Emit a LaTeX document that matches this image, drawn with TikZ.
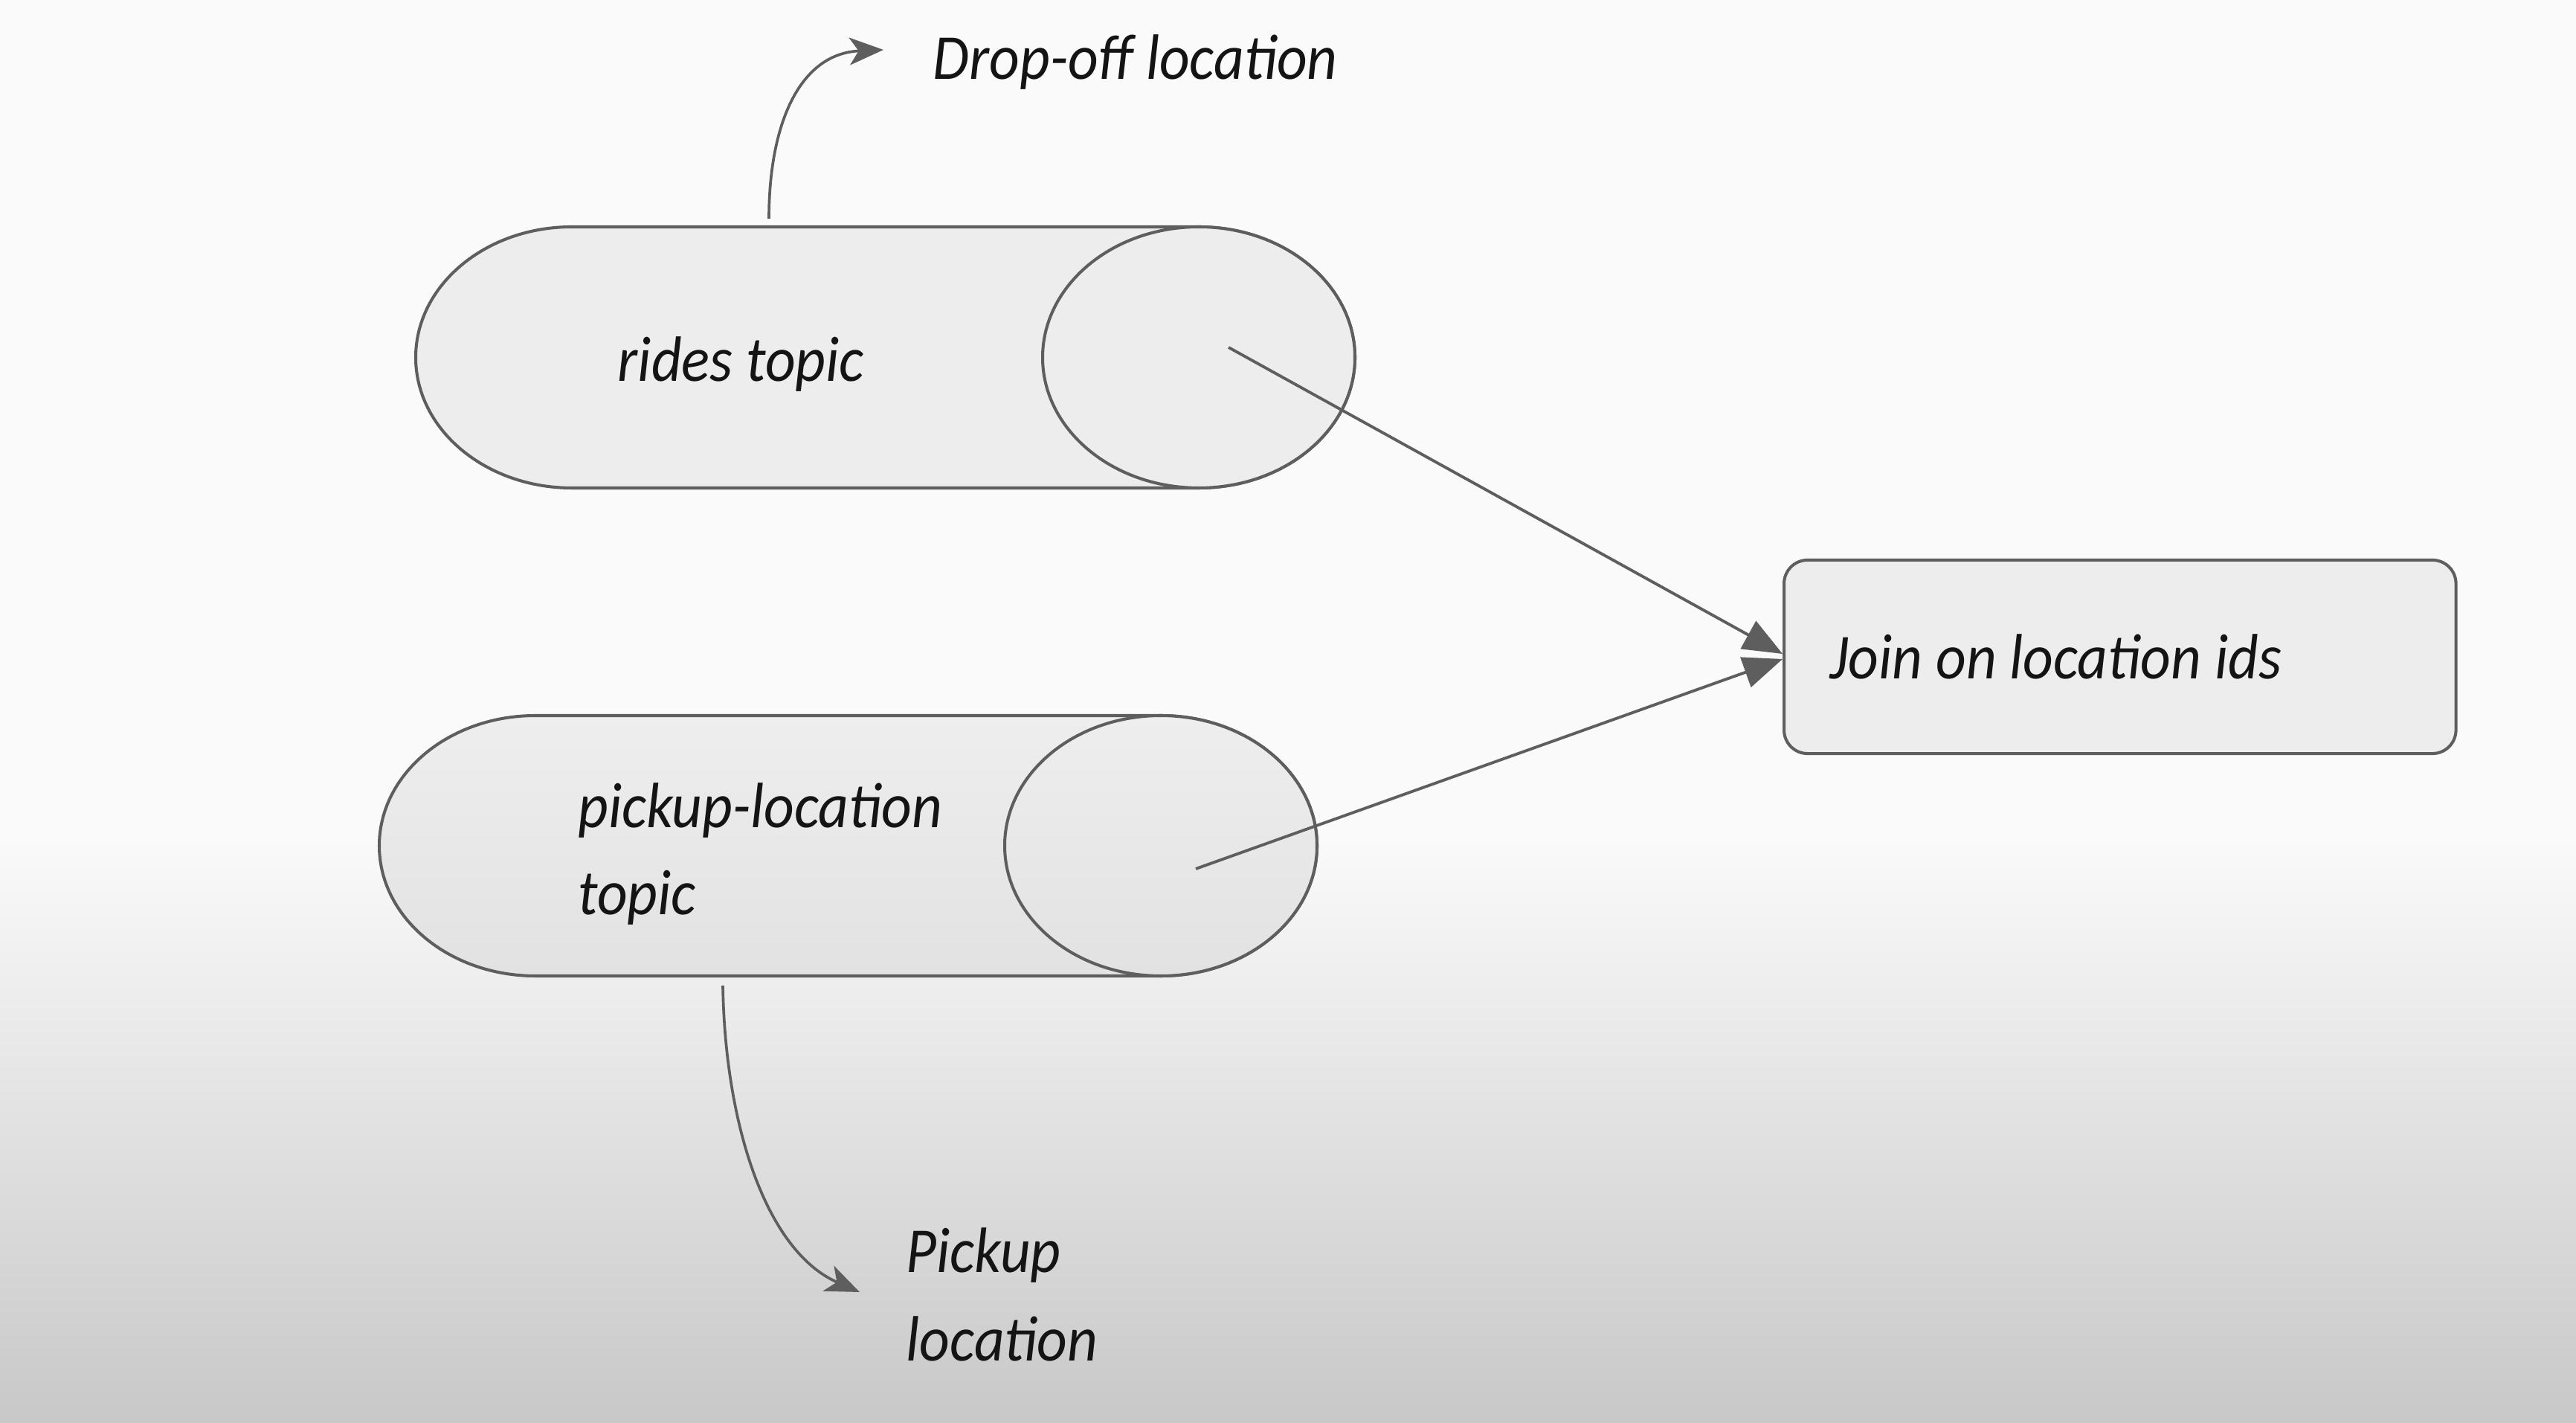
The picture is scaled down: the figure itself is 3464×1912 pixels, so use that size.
\documentclass[tikz,border=0pt]{standalone}
\usepackage{fontspec}
\newfontfamily\hand[FakeStretch=0.92]{Carlito}
\usetikzlibrary{arrows.meta}
\definecolor{lc}{HTML}{5E5E5E}
\definecolor{cylfill}{HTML}{EDEDED}
\definecolor{txt}{HTML}{141414}
\tikzset{
  lbl/.style={font=\hand\itshape\fontsize{24.5pt}{33pt}\selectfont, text=txt, inner sep=0pt},
  cylline/.style={draw=lc, line width=1.15pt},
  joinarrow/.style={draw=lc, line width=1.1pt, -{Triangle[length=15pt,width=12pt]}},
  curvearrow/.style={draw=lc, line width=1.05pt, -{Stealth[length=13pt,width=10.5pt,inset=3.5pt]}},
  joinbox/.style={draw=lc, line width=1.15pt, fill=cylfill, rounded corners=9pt, anchor=west,
    minimum width=9.03cm, minimum height=2.6cm, text width=7.8cm, align=flush left,
    inner xsep=0.61cm, font=\hand\itshape\fontsize{24.5pt}{33pt}\selectfont, text=txt}
}
\begin{document}
\begin{tikzpicture}[x=0.01cm, y=0.01cm]
\useasboundingbox (0,0) rectangle (3464,1912);
% background
\fill[color={rgb,255:red,250;green,250;blue,250}] (0,782) rectangle (3464,1912);
\shade[top color={rgb,255:red,250;green,250;blue,250}, bottom color={rgb,255:red,200;green,200;blue,200}] (0,0) rectangle (3464,782);

% rides topic cylinder
\path[cylline, fill=cylfill] (1612,1607) -- (769,1607)
  arc[start angle=90, end angle=270, x radius=210, y radius=175.5]
  -- (1612,1256)
  arc[start angle=-90, end angle=90, x radius=210, y radius=175.5] -- cycle;
\draw[cylline, fill=cylfill] (1612,1431.5) ellipse [x radius=210, y radius=175.5];
\node[lbl, anchor=base west] (rides) at (830,1399) {rides topic};
\coordinate (ridesEnd) at (1652,1445);
\coordinate (ridesTop) at (1034,1618);

% pickup-location topic cylinder
\path[cylline, top color={rgb,255:red,238;green,238;blue,238}, bottom color={rgb,255:red,226;green,226;blue,226}] (1561,950) -- (720,950)
  arc[start angle=90, end angle=270, x radius=210, y radius=175]
  -- (1561,600)
  arc[start angle=-90, end angle=90, x radius=210, y radius=175] -- cycle;
\draw[cylline, top color={rgb,255:red,238;green,238;blue,238}, bottom color={rgb,255:red,226;green,226;blue,226}] (1561,775) ellipse [x radius=210, y radius=175];
\node[lbl, anchor=base west] (pickup) at (777,799)
  {\vtop{\baselineskip=33pt\hbox{pickup-location}\hbox{topic}}};
\coordinate (pickupEnd) at (1608,744);
\coordinate (pickupBottom) at (972,587);

% join box
\node[joinbox] (join) at (2397,1029) {Join on location ids};

% labels
\node[lbl, anchor=base west] (drop) at (1254,1805) {Drop-off location};
\node[lbl, anchor=base west] (pickuploc) at (1218,202)
  {\vtop{\baselineskip=34pt\hbox{Pickup}\hbox{location}}};
\coordinate (dropTip) at (1188,1845);
\coordinate (pickTip) at (1156,175);

% connectors
\draw[joinarrow] (ridesEnd) -- ([yshift=0.04cm]join.west);
\draw[joinarrow] (pickupEnd) -- ([yshift=-0.03cm]join.west);
\draw[curvearrow] (ridesTop) .. controls (1034,1745) and (1075,1840) .. (dropTip);
\draw[curvearrow] (pickupBottom) .. controls (975,400) and (1030,230) .. (pickTip);
\end{tikzpicture}
\end{document}
